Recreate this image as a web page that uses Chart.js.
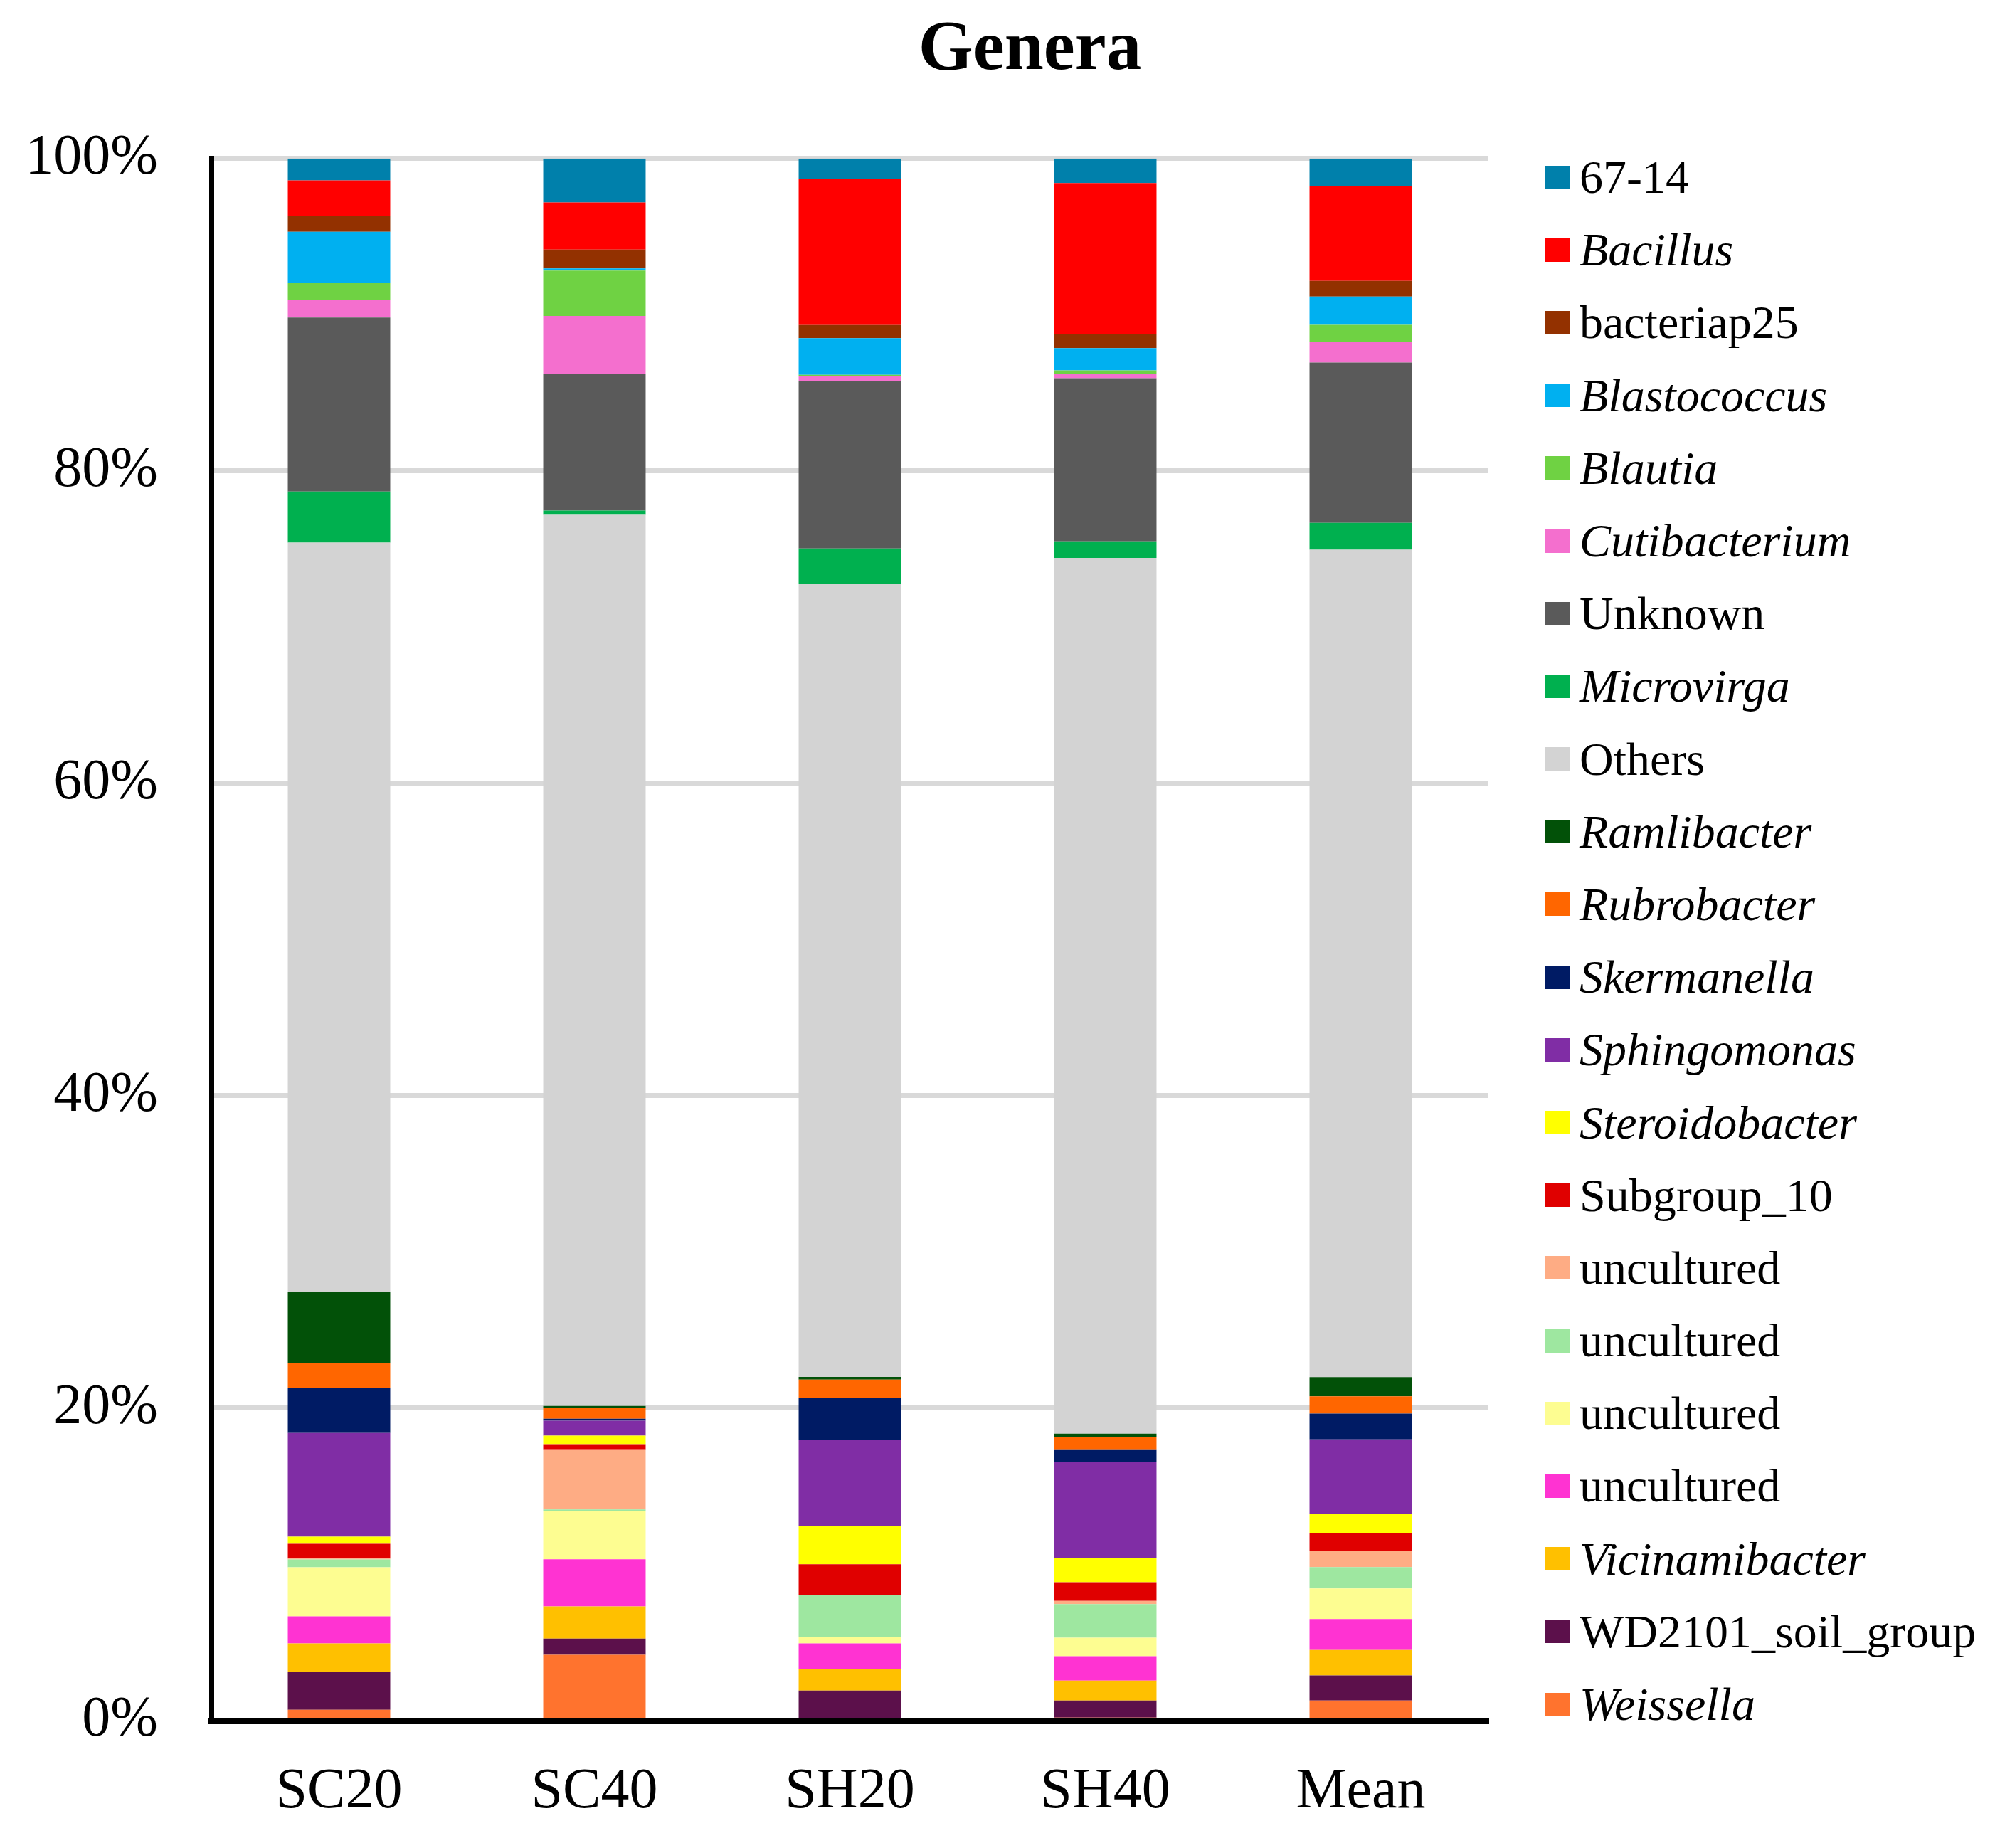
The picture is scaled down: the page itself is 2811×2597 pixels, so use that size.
<!DOCTYPE html>
<html>
<head>
<meta charset="utf-8">
<script src="https://cdn.jsdelivr.net/npm/chart.js@4.4.1/dist/chart.umd.min.js"></script>
<style>
    html, body { margin: 0; padding: 0; background: #fff; }
    #wrap { position: relative; width: 2811px; height: 2597px; }
    #myChart { display: block; }
    #legend { position: absolute; left: 2172px; top: 198px; font-family: "Liberation Serif", serif; font-size: 66px; color: #000; }
    #legend .row { height: 102.2px; display: flex; align-items: center; white-space: nowrap; }
    #legend .box { width: 35px; height: 33px; margin-right: 13px; flex: none; }
</style>
</head>
<body>
<div id="wrap">
    <canvas id="myChart" width="2811" height="2597"></canvas>
    <div id="legend"></div>
</div>
<script>
// samples on the x axis
const categories = ["SC20", "SC40", "SH20", "SH40", "Mean"];
const yTickValues = [0, 20, 40, 60, 80, 100];

// relative abundance (%) per genus, order: SC20, SC40, SH20, SH40, Mean
const g6714 = [1.40, 2.81, 1.30, 1.57, 1.78];
const bacillus = [2.26, 3.02, 9.36, 9.65, 6.05];
const bacteriap25 = [1.03, 1.21, 0.84, 0.92, 1.00];
const blastococcus = [3.25, 0.13, 2.35, 1.42, 1.82];
const blautia = [1.11, 2.91, 0.10, 0.23, 1.09];
const cutibacterium = [1.13, 3.69, 0.27, 0.27, 1.32];
const unknown = [11.14, 8.77, 10.74, 10.45, 10.26];
const microvirga = [3.27, 0.27, 2.27, 1.06, 1.72];
const others = [47.95, 57.04, 50.77, 56.06, 52.97];
const ramlibacter = [4.56, 0.13, 0.17, 0.23, 1.23];
const rubrobacter = [1.62, 0.69, 1.15, 0.77, 1.10];
const skermanella = [2.87, 0.13, 2.73, 0.83, 1.65];
const sphingomonas = [6.63, 0.96, 5.48, 6.12, 4.79];
const steroidobacter = [0.46, 0.54, 2.46, 1.56, 1.23];
const subgroup10 = [0.94, 0.33, 1.98, 1.19, 1.10];
const unculturedA = [0.06, 3.85, 0.00, 0.21, 1.06];
const unculturedB = [0.50, 0.13, 2.69, 2.15, 1.37];
const unculturedC = [3.15, 3.06, 0.40, 1.19, 1.96];
const unculturedD = [1.73, 3.02, 1.65, 1.56, 1.98];
const vicinamibacter = [1.83, 2.06, 1.37, 1.27, 1.63];
const wd2101 = [2.42, 1.04, 1.92, 1.10, 1.60];
const weissella = [0.69, 4.21, 0.00, 0.19, 1.29];

// legend order (top to bottom)
const seriesNames = ["67-14", "Bacillus", "bacteriap25", "Blastococcus", "Blautia", "Cutibacterium",
    "Unknown", "Microvirga", "Others", "Ramlibacter", "Rubrobacter", "Skermanella", "Sphingomonas",
    "Steroidobacter", "Subgroup_10", "uncultured", "uncultured", "uncultured", "uncultured",
    "Vicinamibacter", "WD2101_soil_group", "Weissella"];
const seriesValues = [g6714, bacillus, bacteriap25, blastococcus, blautia, cutibacterium,
    unknown, microvirga, others, ramlibacter, rubrobacter, skermanella, sphingomonas,
    steroidobacter, subgroup10, unculturedA, unculturedB, unculturedC, unculturedD,
    vicinamibacter, wd2101, weissella];
const seriesItalic = [false, true, false, true, true, true, false, true, false, true, true, true, true,
    true, false, false, false, false, false, true, false, true];
const seriesColors = ["#0080AB", "#FF0000", "#933100", "#00B0F0", "#6FD243", "#F46FCE",
    "#5A5A5A", "#00B04F", "#D3D3D3", "#025108", "#FF6600", "#001B64", "#802DA5",
    "#FFFF00", "#E00000", "#FEAC84", "#9EE7A0", "#FDFD91", "#FF33D2",
    "#FFC000", "#5C104B", "#FF732E"];

// first dataset sits at the bottom of the stack, so go in reverse legend order
let datasets = [];
for (let i = seriesNames.length - 1; i >= 0; i--) {
    datasets.push({
        label: seriesNames[i],
        data: seriesValues[i],
        backgroundColor: seriesColors[i],
        italic: seriesItalic[i],
        borderWidth: 0,
        categoryPercentage: 1,
        barPercentage: 0.401
    });
}

// html legend so single entries can be italic
const htmlLegend = {
    id: "htmlLegend",
    afterUpdate(chart) {
        let box = document.getElementById("legend");
        box.innerHTML = "";
        let items = chart.data.datasets.slice().reverse();
        items.forEach(ds => {
            let row = document.createElement("div");
            row.className = "row";
            let sw = document.createElement("span");
            sw.className = "box";
            sw.style.background = ds.backgroundColor;
            let txt = document.createElement("span");
            txt.textContent = ds.label;
            if (ds.italic) txt.style.fontStyle = "italic";
            row.appendChild(sw);
            row.appendChild(txt);
            box.appendChild(row);
        });
    }
};

Chart.defaults.font.family = "'Liberation Serif', 'Times New Roman', serif";
Chart.defaults.color = "#000";

const ctx = document.getElementById("myChart").getContext("2d");
new Chart(ctx, {
    type: "bar",
    data: {
        labels: categories,
        datasets: datasets
    },
    options: {
        responsive: false,
        devicePixelRatio: 1,
        animation: false,
        // negative right padding pushes the title centre to the right like the original
        layout: { padding: { left: 0, right: -84, top: 0, bottom: 0 } },
        plugins: {
            legend: { display: false },
            tooltip: { enabled: false },
            title: {
                display: true,
                text: "Genera",
                color: "#000",
                font: { size: 99, weight: "bold", lineHeight: 1.2 },
                padding: { top: 12, bottom: 92 }
            }
        },
        scales: {
            x: {
                stacked: true,
                grid: { drawOnChartArea: false, drawTicks: false },
                border: { display: true, color: "#000", width: 9 },
                ticks: { font: { size: 80 }, padding: 53, color: "#000" },
                afterFit: s => { s.height = 179; }
            },
            y: {
                stacked: true,
                min: 0,
                max: 100,
                afterBuildTicks: s => { s.ticks = yTickValues.map(v => ({ value: v })); },
                grid: { color: "#D9D9D9", lineWidth: 7, drawTicks: false },
                border: { display: true, color: "#000", width: 7 },
                ticks: {
                    font: { size: 80 },
                    padding: 75,
                    color: "#000",
                    callback: v => v + "%"
                },
                afterFit: s => { s.width = 297; }
            },
            // empty axis that only keeps room for the legend
            yRight: {
                type: "linear",
                position: "right",
                display: true,
                grid: { drawOnChartArea: false, drawTicks: false },
                border: { display: false },
                ticks: { display: false },
                afterFit: s => { s.width = 803; }
            }
        }
    },
    plugins: [htmlLegend]
});
</script>
</body>
</html>
